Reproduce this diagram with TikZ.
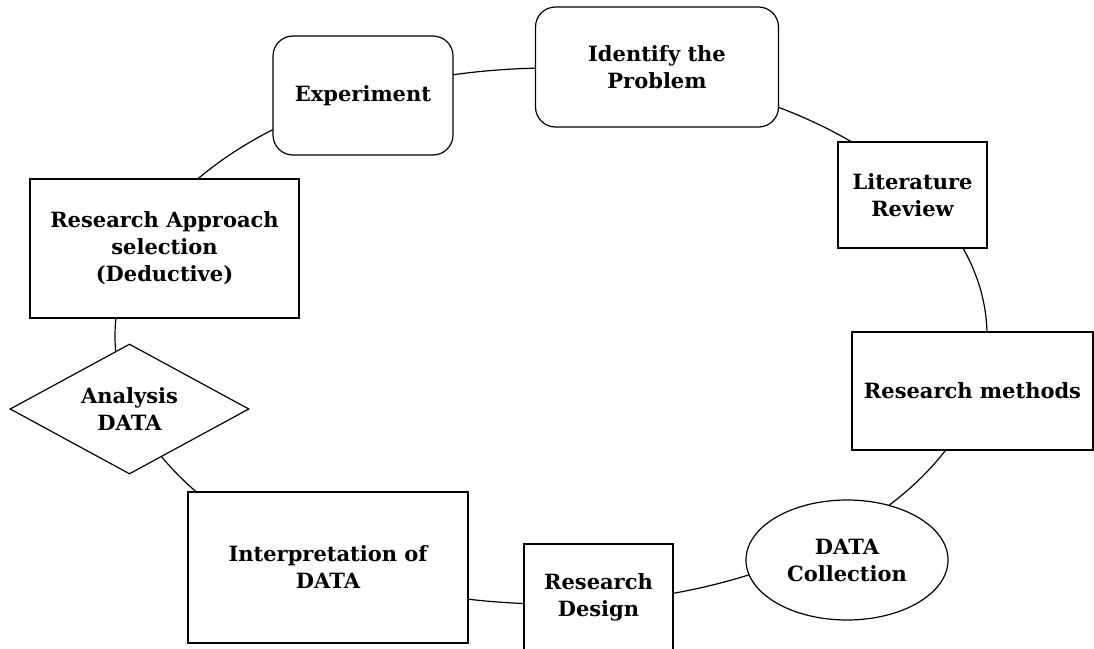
\documentclass[tikz,border=0pt]{standalone}
\usepackage{fontspec}
\setmainfont{DejaVu Serif}
\usetikzlibrary{shapes.geometric}

\tikzset{
  every node/.style={font=\bfseries\fontsize{21}{27}\selectfont, align=center,
    inner sep=0pt, fill=white, draw=black, line width=1.2pt},
  stepbox/.style={rectangle},
  roundbox/.style={rectangle, rounded corners=20pt},
  decision/.style={diamond, shape aspect=1.84},
  oval/.style={ellipse},
  cycle/.style={draw=black, line width=1.2pt}
}

\begin{document}
\begin{tikzpicture}[x=1pt, y=-1pt]
  \useasboundingbox (0,0) rectangle (1094,648);
  \clip (0,0) rectangle (1094,648);

  % the research cycle behind the stages
  \coordinate (hub) at (551,336);
  \draw[cycle] (hub) ellipse [x radius=436pt, y radius=268pt];

  % stages around the cycle
  \node[roundbox, minimum width=243pt, minimum height=120pt] (problem) at (657,67) {Identify the\\Problem};
  \node[stepbox, minimum width=149pt, minimum height=106pt] (literature) at (912.5,195) {Literature\\Review};
  \node[stepbox, minimum width=241pt, minimum height=118pt] (methods) at (972.5,391) {Research methods};
  \node[oval, minimum width=202pt, minimum height=120pt] (collection) at (847,560) {DATA\\Collection};
  \node[stepbox, minimum width=149pt, minimum height=106pt] (design) at (598.5,597) {Research\\Design};
  \node[stepbox, minimum width=280pt, minimum height=151pt] (interpretation) at (328,567.5) {Interpretation of\\DATA};
  \node[decision, minimum width=239pt, minimum height=130pt] (analysis) at (129.5,409) {Analysis\\DATA};
  \node[stepbox, minimum width=269pt, minimum height=139pt] (approach) at (164.5,248.5) {Research Approach\\selection\\(Deductive)};
  \node[roundbox, minimum width=180pt, minimum height=119pt] (experiment) at (363,95.5) {Experiment};
\end{tikzpicture}
\end{document}
